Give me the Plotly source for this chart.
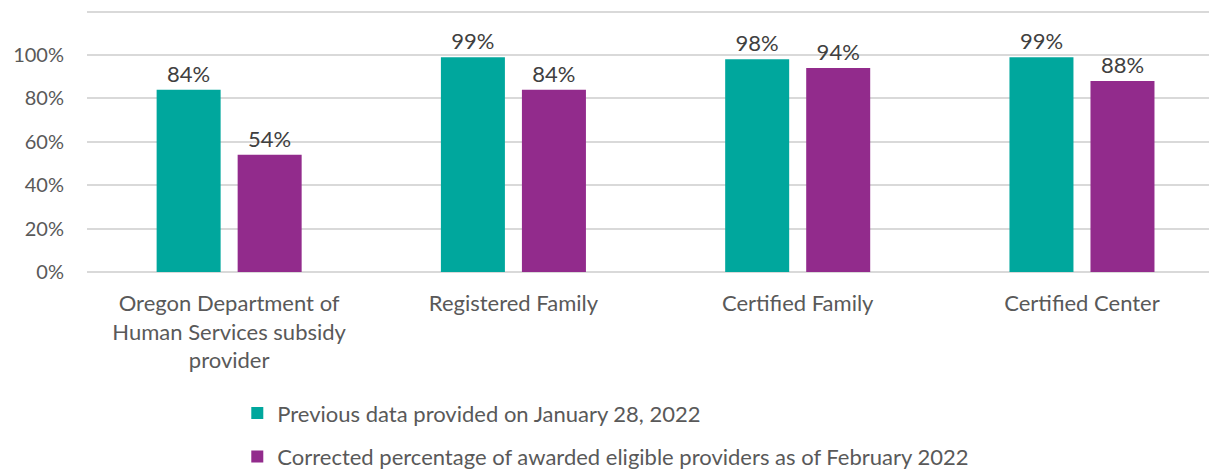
import plotly.graph_objects as go

categories = [
    "Oregon Department of<br>Human Services subsidy<br>provider",
    "Registered Family",
    "Certified Family",
    "Certified Center",
]
previous_values = [0.84, 0.99, 0.98, 0.99]
corrected_values = [0.54, 0.84, 0.94, 0.88]
series_names = [
    "Previous data provided on January 28, 2022",
    "Corrected percentage of awarded eligible providers as of February 2022",
]
y_tick_values = [0, 0.2, 0.4, 0.6, 0.8, 1.0, 1.2]
y_tick_labels = ["0%", "20%", "40%", "60%", "80%", "100%", ""]

TEAL = "#00A79D"
PURPLE = "#922B8C"
FONT = "Lato"

fig = go.Figure()
for name, vals, color, grp in [
    (series_names[0], previous_values, TEAL, "a"),
    (series_names[1], corrected_values, PURPLE, "b"),
]:
    fig.add_trace(go.Bar(
        x=categories, y=vals, name=name, legendgroup=grp,
        marker=dict(color=color, line=dict(width=0)),
        texttemplate="%{y:.0%}", textposition="outside",
        textfont=dict(family=FONT, size=22, color="#404040"),
        cliponaxis=False,
    ))

fig.update_layout(
    width=1209, height=466,
    margin=dict(l=79, r=0, t=1, b=202, autoexpand=False),
    paper_bgcolor="white", plot_bgcolor="white",
    barmode="group", bargap=0.43, bargroupgap=0.21,
    font=dict(family=FONT, color="#595959"),
    showlegend=True,
    legend=dict(
        orientation="v", x=0.133, xanchor="left", y=-0.457, yanchor="top",
        font=dict(family=FONT, size=22, color="#595959"),
        tracegroupgap=12, bgcolor="rgba(0,0,0,0)",
    ),
    xaxis=dict(
        range=[-0.5, 3.475], showgrid=False, showline=False, zeroline=False,
        tickfont=dict(family=FONT, size=22, color="#595959"),
        ticks="", ticklabelstandoff=16,
    ),
    yaxis=dict(
        range=[0, 1.212], tickvals=y_tick_values, ticktext=y_tick_labels,
        showgrid=True, gridcolor="#D9D9D9", gridwidth=1.5,
        zeroline=True, zerolinecolor="#D9D9D9", zerolinewidth=1.5,
        showline=False, ticks="", ticklabelstandoff=22,
        tickfont=dict(family=FONT, size=20, color="#595959"),
    ),
)

fig.write_html("out.html")
